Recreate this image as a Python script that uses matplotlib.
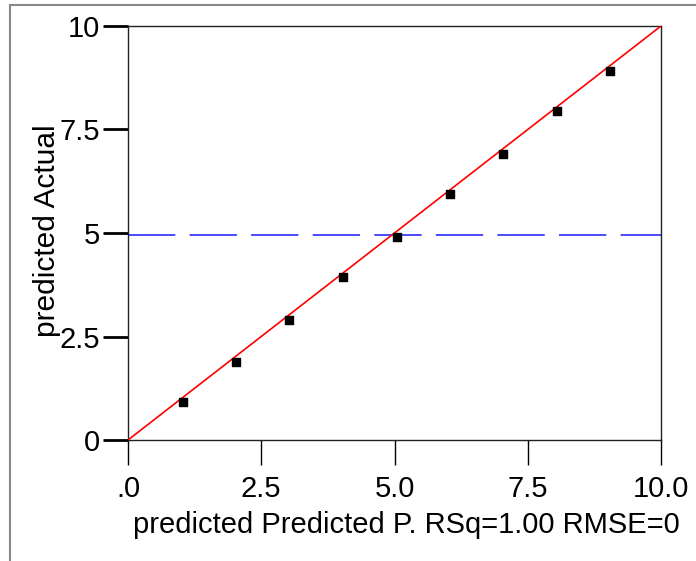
import matplotlib
matplotlib.use("Agg")
import matplotlib.pyplot as plt
from matplotlib.lines import Line2D
import numpy as np

plt.rcParams['font.family'] = ['Liberation Sans', 'DejaVu Sans']

pred = [1.03, 2.03, 3.03, 4.03, 5.04, 6.04, 7.04, 8.04, 9.04]
actual = [0.92, 1.88, 2.91, 3.94, 4.91, 5.95, 6.91, 7.95, 8.91]
mean_line = 4.95
fit_x = [0, 10]
fit_y = [0, 10]
xticks = [0, 2.5, 5, 7.5, 10]
xticklabels = ['.0', '2.5', '5.0', '7.5', '10.0']
yticks = [0, 2.5, 5, 7.5, 10]
yticklabels = ['0', '2.5', '5', '7.5', '10']

W, H = 696, 561
fig = plt.figure(figsize=(W/100, H/100), dpi=100)
ax = fig.add_axes([128/W, 1-440/H, (661-128)/W, (440-26)/H])

ax.plot(fit_x, fit_y, color='red', lw=1.2, zorder=3)
ax.axhline(mean_line, color='#3c3cff', lw=1.3, dashes=(26.2, 7.9), zorder=2)
ax.scatter(pred, actual, marker='s', s=28, color='black', zorder=4)

ax.set_xlim(0, 10)
ax.set_ylim(0, 10)
ax.set_xticks(xticks)
ax.set_xticklabels(xticklabels)
ax.set_yticks(yticks)
ax.set_yticklabels(yticklabels)
ax.tick_params(axis='both', direction='out', length=18, labelsize=21, colors='black')
ax.tick_params(axis='y', width=2.0, pad=2)
ax.tick_params(axis='x', width=1.0, pad=7)
for s in ax.spines.values():
    s.set_linewidth(1.0)
    s.set_color('#222222')

fig.text(406/W, 1-525/H, 'predicted Predicted P. RSq=1.00 RMSE=0', fontsize=21,
         ha='center', va='center', color='black')
fig.text(47/W, 1-231/H, 'predicted Actual', fontsize=21.5, rotation=90,
         ha='center', va='center', color='black')

fig.add_artist(Line2D([10/W, 10/W], [0, 1-5/H], transform=fig.transFigure, color='#888888', lw=1.5))
fig.add_artist(Line2D([10/W, 1], [1-5/H, 1-5/H], transform=fig.transFigure, color='#888888', lw=1.5))

fig.savefig('out.png', dpi=100)
